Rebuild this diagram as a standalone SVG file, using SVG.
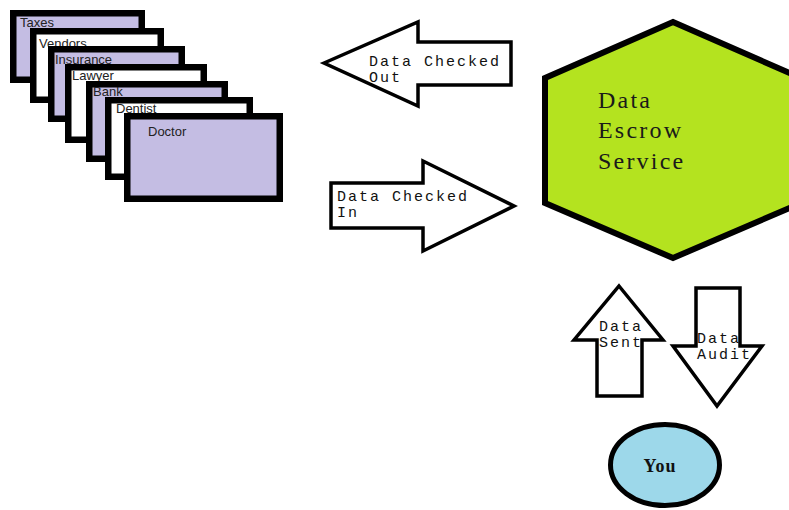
<svg xmlns="http://www.w3.org/2000/svg" width="789" height="510" viewBox="0 0 789 510">
  <style>
    .card { stroke: #000; stroke-width: 6.5; }
    .lav { fill: #c4bde3; }
    .wht { fill: #fff; }
    .cardtxt { font-family: "Liberation Sans", Arial, sans-serif; font-size: 13px; fill: #222; }
    .arrow { fill: #fff; stroke: #000; stroke-width: 3.5; stroke-linejoin: miter; }
    .mono { font-family: "Liberation Mono", "Courier New", monospace; font-size: 15px; letter-spacing: 2px; fill: #111; }
    .serif { font-family: "Liberation Serif", "Times New Roman", serif; font-size: 24px; letter-spacing: 2.2px; fill: #1a1a1a; }
  </style>
  <rect width="789" height="510" fill="#fff"/>

  <!-- stacked record cards, back to front -->
  <g id="taxes">
    <rect class="card lav" x="13.25" y="13.25" width="128.5" height="66.5"/>
    <text class="cardtxt" x="20" y="27">Taxes</text>
  </g>
  <g id="vendors">
    <rect class="card wht" x="33.25" y="31.25" width="127.5" height="68.5"/>
    <text class="cardtxt" x="39" y="48">Vendors</text>
  </g>
  <g id="insurance">
    <rect class="card lav" x="51.25" y="49.25" width="130.5" height="69.5"/>
    <text class="cardtxt" x="55" y="64">Insurance</text>
  </g>
  <g id="lawyer">
    <rect class="card wht" x="68.25" y="67.25" width="135.5" height="72.5"/>
    <text class="cardtxt" x="72" y="80">Lawyer</text>
  </g>
  <g id="bank">
    <rect class="card lav" x="89.25" y="84.25" width="135.5" height="74.5"/>
    <text class="cardtxt" x="93" y="96">Bank</text>
  </g>
  <g id="dentist">
    <rect class="card wht" x="108.25" y="100.25" width="141.5" height="76.5"/>
    <text class="cardtxt" x="116" y="113">Dentist</text>
  </g>
  <g id="doctor">
    <rect class="card lav" x="127.25" y="116.25" width="152.5" height="82.5"/>
    <text class="cardtxt" x="148" y="136">Doctor</text>
  </g>

  <!-- escrow service hexagon -->
  <g id="escrow">
    <polygon points="673,22 801,78 801,203 673,258 545,203 545,78" fill="#b4e31f" stroke="#000" stroke-width="6"/>
    <text class="serif" x="598" y="108">Data</text>
    <text class="serif" x="598" y="138">Escrow</text>
    <text class="serif" x="598" y="169">Service</text>
  </g>

  <!-- the user -->
  <g id="you">
    <ellipse cx="665" cy="465" rx="54.5" ry="40.5" fill="#9dd8ea" stroke="#000" stroke-width="5"/>
    <text x="660" y="472" text-anchor="middle" font-family="Liberation Serif, 'Times New Roman', serif" font-weight="bold" font-size="18" letter-spacing="1" fill="#111">You</text>
  </g>

  <!-- block-arrow connectors -->
  <g id="connectors">
    <g id="checked-out">
      <polygon class="arrow" points="324,63 418,22 418,42 511,42 511,85 418,85 418,106"/>
      <text class="mono" x="369" y="66">Data Checked</text>
      <text class="mono" x="369" y="82">Out</text>
    </g>
    <g id="checked-in">
      <polygon class="arrow" points="331,183 423,183 423,161 514,206 423,251 423,228 331,228"/>
      <text class="mono" x="337" y="201">Data Checked</text>
      <text class="mono" x="337" y="217">In</text>
    </g>
    <g id="sent">
      <polygon class="arrow" points="619,286 663,340 642,340 642,396 597,396 597,340 574,340"/>
      <text class="mono" x="599" y="331">Data</text>
      <text class="mono" x="599" y="347">Sent</text>
    </g>
    <g id="audit">
      <polygon class="arrow" points="696,288 740,288 740,346 762,346 717,406 673,346 696,346"/>
      <text class="mono" x="697" y="343">Data</text>
      <text class="mono" x="697" y="359">Audit</text>
    </g>
  </g>
</svg>
